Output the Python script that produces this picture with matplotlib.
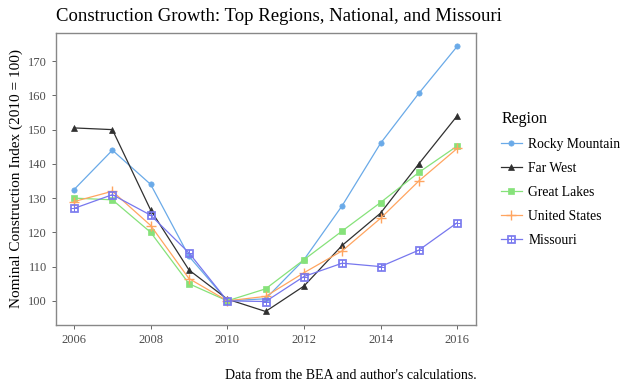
import matplotlib
matplotlib.use("Agg")
import matplotlib.pyplot as plt

plt.rcParams['font.family'] = ['Liberation Serif', 'DejaVu Serif']

years = [2006, 2007, 2008, 2009, 2010, 2011, 2012, 2013, 2014, 2015, 2016]
rocky_mountain = [132.5, 144, 134, 113, 100, 100.6, 112, 127.8, 146, 160.6, 174.3]
far_west = [150.5, 150, 126.5, 109, 100.5, 96.9, 104.3, 116.2, 125.6, 140, 154]
great_lakes = [130, 129.5, 120, 105, 100, 103.5, 112, 120.4, 128.7, 137.5, 145.2]
united_states = [129, 132, 122, 106.5, 100, 101.3, 108.2, 114.6, 124.1, 135, 144.5]
missouri = [127, 131, 125, 114, 100, 99.8, 107.1, 111, 110, 114.8, 122.8]

series = [
    ("Rocky Mountain", rocky_mountain, "#6aaae8", "o", 3.8),
    ("Far West", far_west, "#303030", "^", 4.3),
    ("Great Lakes", great_lakes, "#86e27a", "s", 3.8),
    ("United States", united_states, "#ffa560", "+", 7),
    ("Missouri", missouri, "#7777ee", "$\u229e$", 5.5),
]

fig = plt.figure(figsize=(6.3, 3.89), dpi=100)
ax = fig.add_axes([0.089, 0.165, 0.667, 0.75])

for name, vals, col, mk, ms in series:
    ax.plot(years, vals, color=col, lw=0.9, marker=mk, markersize=ms,
            markeredgewidth=1.0 if mk == "+" else 0.5, label=name)

ax.set_xlim(2005.53, 2016.5)
ax.set_ylim(93, 178.2)
ax.set_xticks([2006, 2008, 2010, 2012, 2014, 2016])
ax.set_yticks([100, 110, 120, 130, 140, 150, 160, 170])
ax.tick_params(colors="#4d4d4d", labelsize=9, length=3, width=0.6, labelcolor="#4d4d4d")
for s in ax.spines.values():
    s.set_color("#888888")
    s.set_linewidth(1.0)

ax.set_ylabel("Nominal Construction Index (2010 = 100)", fontsize=11)
fig.text(0.089, 0.945, "Construction Growth: Top Regions, National, and Missouri",
         fontsize=13.5, ha="left", va="baseline")
fig.text(0.756, 0.025, "Data from the BEA and author's calculations.",
         fontsize=10, ha="right", va="baseline")

leg = ax.legend(title="Region", loc="center left", bbox_to_anchor=(1.03, 0.5),
                frameon=False, fontsize=9.8, title_fontsize=11.5,
                handlelength=1.5, handletextpad=0.5, labelspacing=0.8)
leg._legend_box.align = "left"

fig.savefig("out.png", dpi=100)
